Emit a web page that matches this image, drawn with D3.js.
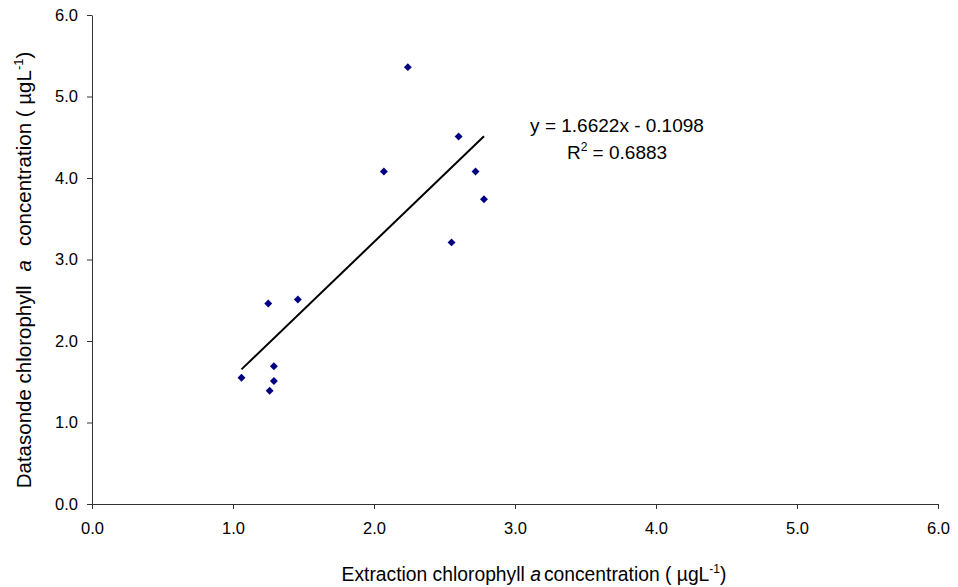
<!DOCTYPE html>
<html>
<head>
<meta charset="utf-8">
<script src="https://cdn.jsdelivr.net/npm/d3@7"></script>
<style>
  body { margin: 0; background: #fff; }
  text { font-family: "Liberation Sans", Arial, sans-serif; fill: #000; }
</style>
</head>
<body>
<svg id="chart"></svg>
<script>
// data
const extraction = [1.06, 1.25, 1.26, 1.29, 1.29, 1.46, 2.07, 2.24, 2.55, 2.60, 2.72, 2.78];
const datasonde  = [1.55, 2.46, 1.39, 1.69, 1.51, 2.51, 4.08, 5.36, 3.21, 4.51, 4.08, 3.74];
const xTicks = [0, 1, 2, 3, 4, 5, 6];
const yTicks = [0, 1, 2, 3, 4, 5, 6];
const trendSlope = [1.6622];
const trendIntercept = [-0.1098];
const rSquared = [0.6883];

const width = 958, height = 587;
const margin = {top: 15, right: 20, bottom: 83, left: 92};

const svg = d3.select('#chart')
    .attr('width', width)
    .attr('height', height);

const xScale = d3.scaleLinear()
    .domain([0, 6])
    .range([margin.left, width - margin.right]);

const yScale = d3.scaleLinear()
    .domain([0, 6])
    .range([height - margin.bottom, margin.top]);

const xAxis = d3.axisBottom(xScale)
    .tickValues(xTicks)
    .tickFormat(d3.format('.1f'))
    .tickSize(5)
    .tickSizeOuter(0)
    .tickPadding(13);

const yAxis = d3.axisLeft(yScale)
    .tickValues(yTicks)
    .tickFormat(d3.format('.1f'))
    .tickSize(5)
    .tickSizeOuter(0)
    .tickPadding(9);

const xAxisG = svg.append('g')
    .attr('transform', `translate(0,${yScale(0)})`)
    .call(xAxis);

const yAxisG = svg.append('g')
    .attr('transform', `translate(${xScale(0)},0)`)
    .call(yAxis);

[xAxisG, yAxisG].forEach(g => {
    g.selectAll('path, line').attr('stroke', '#333').attr('stroke-width', 1);
    g.selectAll('text')
        .attr('font-size', '16.5px')
        .attr('font-family', '"Liberation Sans", Arial, sans-serif')
        .attr('fill', '#000');
});

// trendline over the range of the data
const xMin = d3.min(extraction), xMax = d3.max(extraction);
const fit = x => trendSlope[0] * x + trendIntercept[0];
svg.append('line')
    .attr('x1', xScale(xMin))
    .attr('y1', yScale(fit(xMin)))
    .attr('x2', xScale(xMax))
    .attr('y2', yScale(fit(xMax)))
    .attr('stroke', '#000')
    .attr('stroke-width', 2);

// diamonds
const points = extraction.map((x, i) => ({x: x, y: datasonde[i]}));
svg.append('g')
    .selectAll('path')
    .data(points)
    .join('path')
    .attr('d', d3.symbol(d3.symbolDiamond2, 40))
    .attr('transform', d => `translate(${xScale(d.x)},${yScale(d.y)})`)
    .attr('fill', '#000080');

// equation
const eq = svg.append('g').attr('font-size', '19px');
eq.append('text')
    .attr('x', 617).attr('y', 132)
    .attr('text-anchor', 'middle')
    .text(`y = ${trendSlope[0].toFixed(4)}x - ${Math.abs(trendIntercept[0]).toFixed(4)}`);
const r2 = eq.append('text')
    .attr('x', 617).attr('y', 159)
    .attr('text-anchor', 'middle');
r2.append('tspan').text('R');
r2.append('tspan').attr('font-size', '12px').attr('dy', -8).text('2');
r2.append('tspan').attr('dy', 8).text(` = ${rSquared[0].toFixed(4)}`);

// x axis title
const xt = svg.append('text')
    .attr('x', 534).attr('y', 581)
    .attr('text-anchor', 'middle')
    .attr('font-size', '19.3px');
xt.append('tspan').text('Extraction chlorophyll ');
xt.append('tspan').attr('font-style', 'italic').text('a');
xt.append('tspan').attr('dx', 3).text('concentration ( µgL');
xt.append('tspan').attr('font-size', '12px').attr('dy', -8).text('-1');
xt.append('tspan').attr('dy', 8).text(')');

// y axis title
const yt = svg.append('text')
    .attr('transform', `translate(31,270) rotate(-90)`)
    .attr('text-anchor', 'middle')
    .attr('font-size', '20.5px');
yt.append('tspan').text('Datasonde chlorophyll');
yt.append('tspan').attr('dx', 14).attr('font-style', 'italic').text('a');
yt.append('tspan').attr('dx', 14).text('concentration ( µgL');
yt.append('tspan').attr('font-size', '13px').attr('dy', -8).text('-1');
yt.append('tspan').attr('dy', 8).text(')');
</script>
</body>
</html>
